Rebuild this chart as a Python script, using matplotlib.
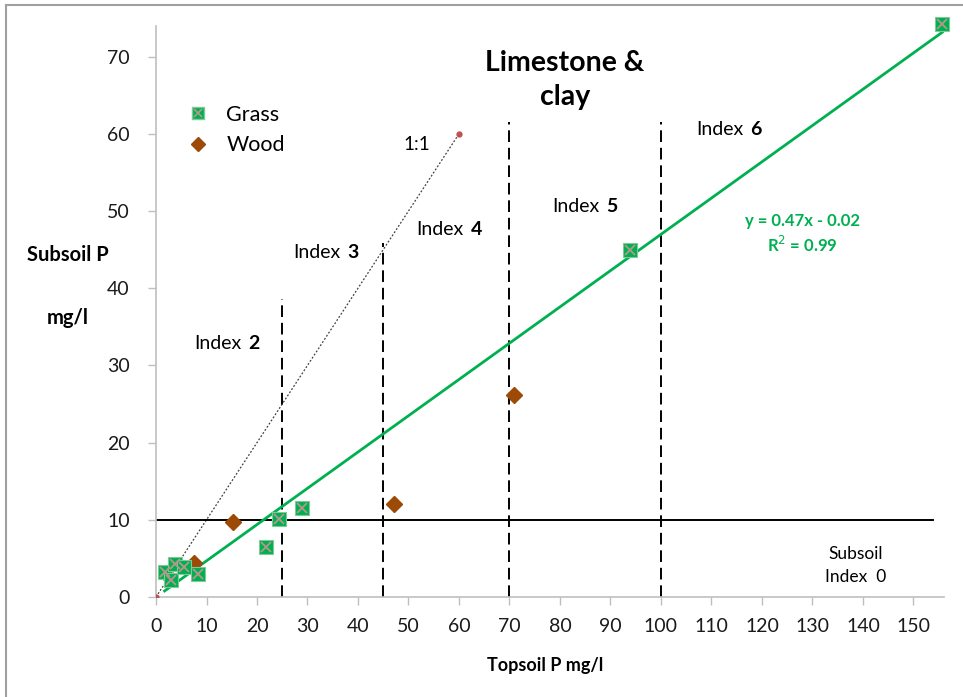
import matplotlib.pyplot as plt
from matplotlib.lines import Line2D
import numpy as np

plt.rcParams['font.family'] = ['Lato', 'DejaVu Sans']

# Topsoil vs subsoil P, mg/l
grass_x = [1.7, 2.9, 3.7, 5.6, 8.4, 21.7, 24.3, 29.0, 93.8, 155.7]
grass_y = [3.2, 2.2, 4.3, 3.9, 3.0, 6.5, 10.1, 11.5, 44.9, 74.2]
wood_x = [2.7, 7.6, 15.2, 47.2, 70.8]
wood_y = [2.4, 4.4, 9.7, 12.0, 26.2]

slope, intercept = 0.47, -0.02
index_bounds = [25, 45, 70, 100]
index_tops = [38.6, 45.8, 61.5, 61.5]
index_labels = ['2', '3', '4', '5', '6']
index_label_pos = [(7.6, 32.9), (27.2, 44.6), (51.6, 47.6), (78.5, 50.6), (107, 60.6)]

green = '#00b050'
brown = '#9c4a06'

fig = plt.figure(figsize=(9.63, 6.97), dpi=100)
ax = fig.add_axes([0.162, 0.1435, 0.818, 0.8195])

# 1:1 reference line
ax.plot([0, 60], [0, 60], ls=(0, (1.5, 1.5)), color='#404040', lw=0.9, zorder=2)
ax.plot([0, 60], [0, 60], ls='none', marker='o', ms=3.5, color='#c0504d', zorder=3)
ax.text(49, 58.6, '1:1', fontsize=13.5, va='center')

# subsoil index 0 threshold
ax.plot([0, 153.8], [10, 10], color='black', lw=1.4, zorder=2)

# topsoil index boundaries
for bx, top in zip(index_bounds, index_tops):
    ax.plot([bx, bx], [0, top], color='black', lw=1.4, ls=(0, (6, 3)), zorder=2)

for lab, (tx, ty) in zip(index_labels, index_label_pos):
    t = ax.text(tx, ty, 'Index', fontsize=14, va='center')
    ax.annotate(lab, xy=(1, 0), xycoords=t, xytext=(5, 0), textcoords='offset points',
                fontsize=14, fontweight='bold', va='bottom')

# regression line through grass points
fx = np.array([min(grass_x), max(grass_x)])
ax.plot(fx, slope * fx + intercept, color=green, lw=2, zorder=3, clip_on=False)

ax.plot(grass_x, grass_y, ls='none', marker='s', ms=10, mfc=green, mec='#7fc99a',
        mew=0.8, zorder=4, clip_on=False)
ax.plot(grass_x, grass_y, ls='none', marker='x', ms=7, color='#b8958e', mew=1.3, zorder=5,
        clip_on=False)
ax.plot(wood_x, wood_y, ls='none', marker='D', ms=8.5, color=brown, zorder=3.5)

ax.text(128, 47, 'y = 0.47x - 0.02\nR$^2$ = 0.99', color=green, fontsize=12,
        fontweight='bold', ha='center', va='center', linespacing=1.35)
ax.text(81, 67.0, 'Limestone &\nclay', fontsize=20.5, fontweight='bold', ha='center',
        va='center', linespacing=1.4)
ax.text(138.5, 4.1, 'Subsoil\nIndex  0', fontsize=12.5, ha='center', va='center',
        linespacing=1.5)

handles = [
    (Line2D([], [], ls='none', marker='s', ms=9, mfc=green, mec='#7fc99a'),
     Line2D([], [], ls='none', marker='x', ms=6, color='#b8958e', mew=1.2)),
    Line2D([], [], ls='none', marker='D', ms=7.5, color=brown),
]
ax.legend(handles, ['Grass', 'Wood'], loc='upper left', bbox_to_anchor=(0.002, 0.896),
          frameon=False, fontsize=15.5, handletextpad=0.3, labelspacing=0.5)

ax.set_xlim(0, 156)
ax.set_ylim(0, 74)
ax.set_xticks(range(0, 151, 10))
ax.set_yticks(range(0, 71, 10))
for side in ['top', 'right']:
    ax.spines[side].set_visible(False)
for side in ['left', 'bottom']:
    ax.spines[side].set_color('#bfbfbf')
    ax.spines[side].set_linewidth(1.2)
ax.tick_params(colors='#bfbfbf', labelcolor='#1a1a1a', labelsize=14, length=6, width=1)
ax.tick_params(axis='x', pad=9)
ax.tick_params(axis='y', pad=13)

fig.text(0.566, 0.045, 'Topsoil P mg/l', fontsize=13, fontweight='bold', ha='center',
         va='center')
fig.text(0.07, 0.634, 'Subsoil P', fontsize=14.5, fontweight='bold', ha='center',
         va='center')
fig.text(0.07, 0.544, 'mg/l', fontsize=14.5, fontweight='bold', ha='center', va='center')

# chart frame
fig.add_artist(Line2D([0.006, 1.0], [0.993, 0.993], color='#a0a0a0', lw=1.5))
fig.add_artist(Line2D([0.006, 0.006], [0.0, 0.993], color='#a0a0a0', lw=1.5))

fig.savefig('out.png', dpi=100)
